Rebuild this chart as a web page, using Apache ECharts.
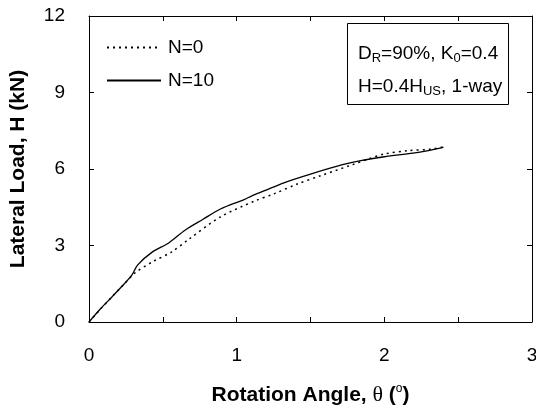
<!DOCTYPE html>
<html>
<head>
<meta charset="utf-8">
<script src="https://cdn.jsdelivr.net/npm/echarts@6/dist/echarts.min.js"></script>
<style>
  html, body { margin: 0; padding: 0; background: #fff; }
  #chart { width: 536px; height: 409px; }
</style>
</head>
<body>
<div id="chart"></div>
<script>
// N=0 (dotted) — rotation angle (deg), lateral load (kN)
const n0Angle = [0, 0.08, 0.16, 0.24, 0.31, 0.43, 0.56, 0.67, 0.89, 1.12, 1.25, 1.41, 1.57, 1.78, 1.89, 2.0, 2.16, 2.32, 2.40];
const n0Load  = [0, 0.52, 1.02, 1.5, 1.92, 2.36, 2.75, 3.22, 4.12, 4.74, 5.02, 5.41, 5.74, 6.16, 6.39, 6.59, 6.72, 6.78, 6.87];
// N=10 (solid)
const n10Angle = [0, 0.075, 0.155, 0.22, 0.29, 0.33, 0.43, 0.54, 0.65, 0.77, 0.89, 1.05, 1.10, 1.19, 1.32, 1.50, 1.71, 1.84, 2.0, 2.23, 2.40];
const n10Load  = [0, 0.5, 0.98, 1.38, 1.84, 2.24, 2.75, 3.1, 3.6, 4.02, 4.43, 4.8, 4.94, 5.15, 5.46, 5.8, 6.16, 6.33, 6.48, 6.65, 6.85];

const xTicks = [0, 1, 2, 3];
const yTicks = [0, 3, 6, 9, 12];

const pair = (xs, ys) => xs.map((x, i) => [x, ys[i]]);
const font = 'Liberation Sans, Arial, sans-serif';

const chart = echarts.init(document.getElementById('chart'));
const axisLine = { show: true, onZero: false, lineStyle: { color: '#000', width: 1 } };
const tick = { show: true, inside: true, length: 5, lineStyle: { color: '#000' } };

chart.setOption({
  animation: false,
  backgroundColor: '#fff',
  grid: { left: 89, right: 4, top: 16, bottom: 87, outerBoundsMode: 'none', containLabel: false },
  legend: {
    left: 106, top: 38, orient: 'vertical', padding: 0,
    itemWidth: 54, itemHeight: 14, itemGap: 14,
    itemStyle: { opacity: 0 },
    textStyle: { fontFamily: font, fontSize: 19, color: '#000', padding: [0, 0, 0, 2] },
    data: ['N=0', 'N=10']
  },
  xAxis: [{
    type: 'value', min: xTicks[0], max: xTicks[xTicks.length - 1], interval: 0.5,
    axisLine, axisTick: tick, splitLine: { show: false },
    axisLabel: {
      margin: 24, fontFamily: font, fontSize: 19, color: '#000',
      formatter: v => (xTicks.includes(v) ? String(v) : '')
    },
    name: 'Rotation Angle, {t|θ} ({d|o})', nameLocation: 'middle', nameGap: 61,
    nameTextStyle: {
      fontFamily: font, fontSize: 21, fontWeight: 'bold', color: '#000',
      rich: {
        t: { fontFamily: 'Liberation Serif, serif', fontSize: 22, fontWeight: 'normal', color: '#000' },
        d: { fontFamily: font, fontSize: 12, fontWeight: 'normal', color: '#000', padding: [0, 0, 12, 0] }
      }
    }
  }, {
    type: 'value', position: 'top', min: 0, max: 3, interval: 0.5,
    axisLine, axisTick: tick, axisLabel: { show: false }, splitLine: { show: false }
  }],
  yAxis: [{
    type: 'value', min: yTicks[0], max: yTicks[yTicks.length - 1], interval: 3,
    axisLine, axisTick: tick, splitLine: { show: false },
    axisLabel: { margin: 24, fontFamily: font, fontSize: 19, color: '#000' },
    name: 'Lateral Load, H (kN)', nameLocation: 'middle', nameGap: 60,
    nameTextStyle: { fontFamily: font, fontSize: 21, fontWeight: 'bold', color: '#000' }
  }, {
    type: 'value', position: 'right', min: 0, max: 12, interval: 3,
    axisLine, axisTick: tick, axisLabel: { show: false }, splitLine: { show: false }
  }],
  series: [{
    name: 'N=0', type: 'line', data: pair(n0Angle, n0Load),
    symbol: 'none', smooth: 0.3, color: '#000',
    lineStyle: { color: '#000', width: 1.5, type: [2, 4] }
  }, {
    name: 'N=10', type: 'line', data: pair(n10Angle, n10Load),
    symbol: 'none', smooth: 0.3, color: '#000',
    lineStyle: { color: '#000', width: 1.3 }
  }],
  graphic: [{
    type: 'rect', left: 347, top: 23,
    shape: { width: 161, height: 81 },
    style: { fill: '#fff', stroke: '#000', lineWidth: 1 }
  }, {
    type: 'text', left: 358, top: 37,
    style: {
      text: 'D{s|R}=90%, K{s|0}=0.4\nH=0.4H{s|US}, 1-way',
      fontFamily: font, fontSize: 19, fill: '#000', lineHeight: 33,
      rich: { s: { fontFamily: font, fontSize: 13, fill: '#000', padding: [10, 0, 0, 0] } }
    }
  }]
});
</script>
</body>
</html>
